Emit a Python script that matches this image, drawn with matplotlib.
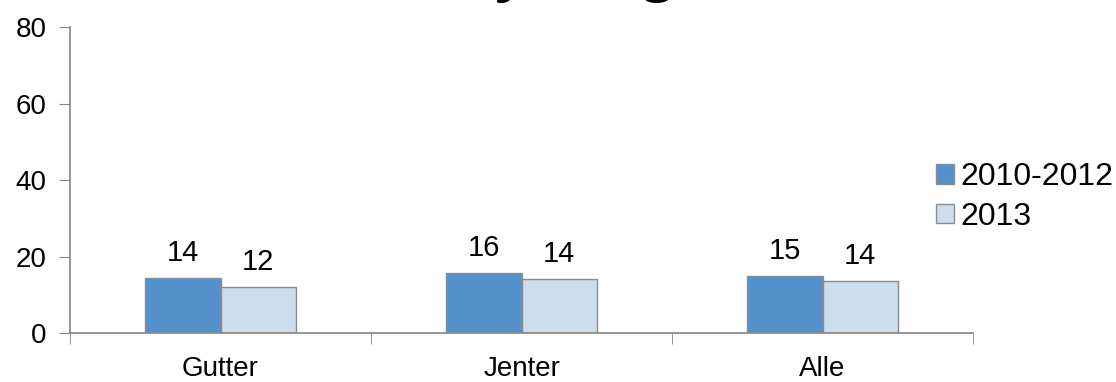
import numpy as np
import matplotlib.pyplot as plt

plt.rcParams['font.family'] = ['Liberation Sans', 'DejaVu Sans']

# data
categories = ['Gutter', 'Jenter', 'Alle']
series_names = ['2010-2012', '2013']
values_2010_2012 = [14.4, 15.7, 15.0]
values_2013 = [12.1, 14.1, 13.6]
yticks = [0, 20, 40, 60, 80]

dark = '#5591CC'
light = '#CCDDEE'
edge = '#8C8C8C'
axis_col = '#868686'

fig = plt.figure(figsize=(11.16, 3.82), dpi=100)
ax = fig.add_axes([0.0627, 0.1275, 0.8093, 0.8015])

x = np.arange(len(categories))
w = 0.25
b1 = ax.bar(x - w / 2, values_2010_2012, w, color=dark, edgecolor=edge, lw=1,
            label=series_names[0])
b2 = ax.bar(x + w / 2, values_2013, w, color=light, edgecolor=edge, lw=1,
            label=series_names[1])

for bars in (b1, b2):
    ax.bar_label(bars, labels=['%.0f' % v for v in bars.datavalues],
                 padding=8, fontsize=21)

ax.set_xlim(-0.5, len(categories) - 0.5)
ax.set_ylim(0, 80)
ax.set_yticks(yticks)
ax.tick_params(axis='y', labelsize=20, length=8, pad=9, color=axis_col)

# category labels centred, ticks on the category boundaries
ax.set_xticks(x)
ax.set_xticklabels(categories, fontsize=20)
ax.tick_params(axis='x', which='major', length=0, pad=16)
ax.set_xticks(np.arange(len(categories) + 1) - 0.5, minor=True)
ax.tick_params(axis='x', which='minor', length=8, color=axis_col)

for s in ['top', 'right']:
    ax.spines[s].set_visible(False)
for s in ['left', 'bottom']:
    ax.spines[s].set_color(axis_col)
    ax.spines[s].set_linewidth(1.2)

ax.legend(loc='center left', bbox_to_anchor=(0.959, 0.445), frameon=False,
          fontsize=23, handlelength=0.55, handleheight=0.55, handletextpad=0.2,
          labelspacing=0.3, borderaxespad=0.0, borderpad=0.0)

# title sits above the cropped top edge, only descenders are visible
fig.text(0.479, 1.036, 'Røyking', fontsize=57, ha='center', va='baseline')

fig.savefig('out.png', dpi=100)
